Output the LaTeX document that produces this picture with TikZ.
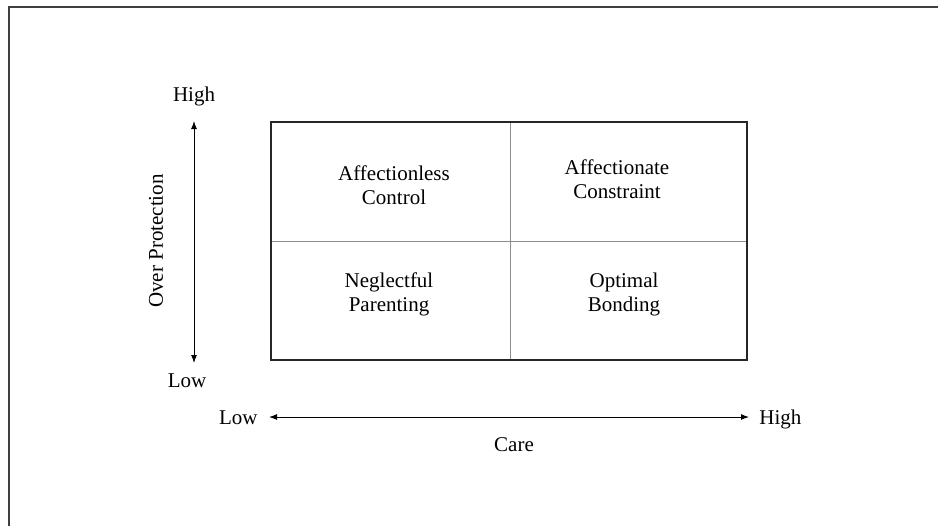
\documentclass[tikz,border=0pt]{standalone}
\usepackage{fontspec}
\setmainfont{Liberation Serif}
\usetikzlibrary{arrows.meta}
\begin{document}
\begin{tikzpicture}[x=0.5pt,y=-0.5pt,
  lbl/.style={font=\fontsize{10.5}{12}\selectfont, inner sep=0pt, align=center},
  axis/.style={line width=0.5pt, {Latex[length=4pt,width=3pt]}-{Latex[length=4pt,width=3pt]}},
  grid/.style={draw=black!45, line width=0.45pt},
  frameline/.style={draw=black!75, line width=1pt}]
\useasboundingbox (0,0) rectangle (938,526);
% page frame (top and left edges)
\draw[frameline] (9,526) -- (9,6.5) -- (938,6.5);
% quadrant box
\coordinate (tl) at (271,122);
\coordinate (br) at (747,360);
\coordinate (mt) at (510,122);
\coordinate (mb) at (510,360);
\coordinate (ml) at (271,241);
\coordinate (mr) at (747,241);
\draw[grid] (mt) -- (mb);
\draw[grid] (ml) -- (mr);
\draw[draw=black!85, line width=0.55pt] (tl) rectangle (br);
% quadrant labels
\node[lbl] (ac) at (394,185) {Affectionless\\Control};
\node[lbl] (at) at (617,179) {Affectionate\\Constraint};
\node[lbl] (np) at (389,294) {Neglectful\\Parenting};
\node[lbl] (ob) at (624,294) {Optimal\\Bonding};
% vertical axis
\coordinate (vtop) at (194,121);
\coordinate (vbot) at (194,363);
\draw[axis] (vbot) -- (vtop);
\node[lbl] (vhigh) at (194,96) {High};
\node[lbl] (vlow) at (187,381) {Low};
\node[lbl, rotate=90] (op) at (156,241) {Over Protection};
% horizontal axis
\coordinate (hl) at (269,417);
\coordinate (hr) at (749,417);
\draw[axis] (hl) -- (hr);
\node[lbl, anchor=mid east] (hlow) at (258,420) {Low};
\node[lbl, anchor=mid west] (hhigh) at (759,420) {High};
\node[lbl] (care) at (514,445) {Care};
\end{tikzpicture}
\end{document}
